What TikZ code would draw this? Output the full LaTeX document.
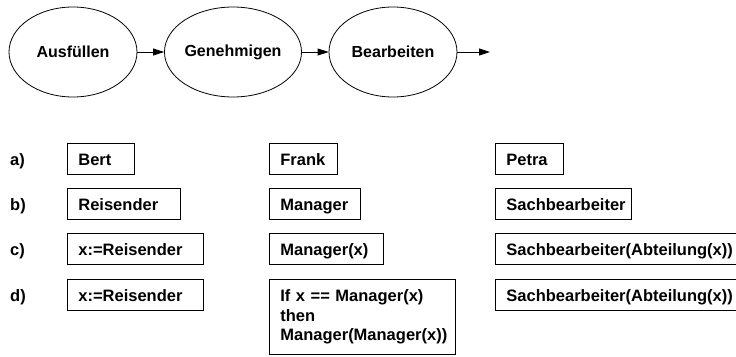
\documentclass[tikz,border=0pt]{standalone}
\usepackage{fontspec}
\setmainfont{Liberation Sans}
\usetikzlibrary{arrows.meta,shapes.geometric}
\begin{document}
\begin{tikzpicture}[x=1pt,y=-1pt,
  stage/.style={draw, line width=0.8pt, ellipse, minimum width=128pt, minimum height=90pt,
    inner sep=0pt, font=\fontsize{16}{19}\selectfont\bfseries},
  flow/.style={line width=0.8pt, -{Triangle[length=11pt,width=7pt]}},
  framed/.style={draw, line width=0.8pt, anchor=north west,
    inner xsep=11pt, align=left,
    font=\fontsize{16.5}{19.5}\selectfont\bfseries},
  box/.style={framed, minimum height=31pt, inner ysep=0pt, text height=16pt, text depth=2pt},
  tallbox/.style={framed, minimum height=75pt, inner ysep=0pt},
  rowlabel/.style={anchor=base west, inner sep=0pt, font=\fontsize{16.5}{19}\selectfont\bfseries}]
\useasboundingbox (0,0) rectangle (736,356);
\clip (0,0) rectangle (736,356);

% process steps
\node[stage] (fill)    at (73,52)  {Ausfüllen};
\node[stage] (approve) at (233,52) {Genehmigen};
\node[stage] (work)    at (393,52) {Bearbeiten};
\coordinate (out) at (490,52);
\draw[flow] (fill) -- (approve);
\draw[flow] (approve) -- (work);
\draw[flow] (work) -- (out);

% a) concrete persons
\node[box, text width=45pt]  (a1) at (67,143)  {Bert};
\node[box, text width=46pt]  (a2) at (269,143) {Frank};
\node[box, text width=46pt]  (a3) at (495,143) {Petra};

% b) roles
\node[box, text width=91pt]  (b1) at (67,188)  {Reisender};
\node[box, text width=69pt]  (b2) at (269,188) {Manager};
\node[box, text width=114pt] (b3) at (495,188) {Sachbearbeiter};

% c) role expressions
\node[box, text width=114pt] (c1) at (67,233)  {x:=Reisender};
\node[box, text width=92pt]  (c2) at (269,233) {Manager(x)};
\node[box, text width=240pt] (c3) at (495,233) {Sachbearbeiter(Abteilung(x))};

% d) conditional role expressions
\node[box, text width=114pt] (d1) at (67,279)  {x:=Reisender};
\node[tallbox, text width=164pt] (d2) at (269,279)
  {If x == Manager(x)\\then\\Manager(Manager(x))};
\node[box, text width=240pt] (d3) at (495,279) {Sachbearbeiter(Abteilung(x))};

% row labels on the baseline of the first box in each row
\node[rowlabel] (la) at (10,0 |- a1.base) {a)};
\node[rowlabel] (lb) at (10,0 |- b1.base) {b)};
\node[rowlabel] (lc) at (10,0 |- c1.base) {c)};
\node[rowlabel] (ld) at (10,0 |- d1.base) {d)};
\end{tikzpicture}
\end{document}
